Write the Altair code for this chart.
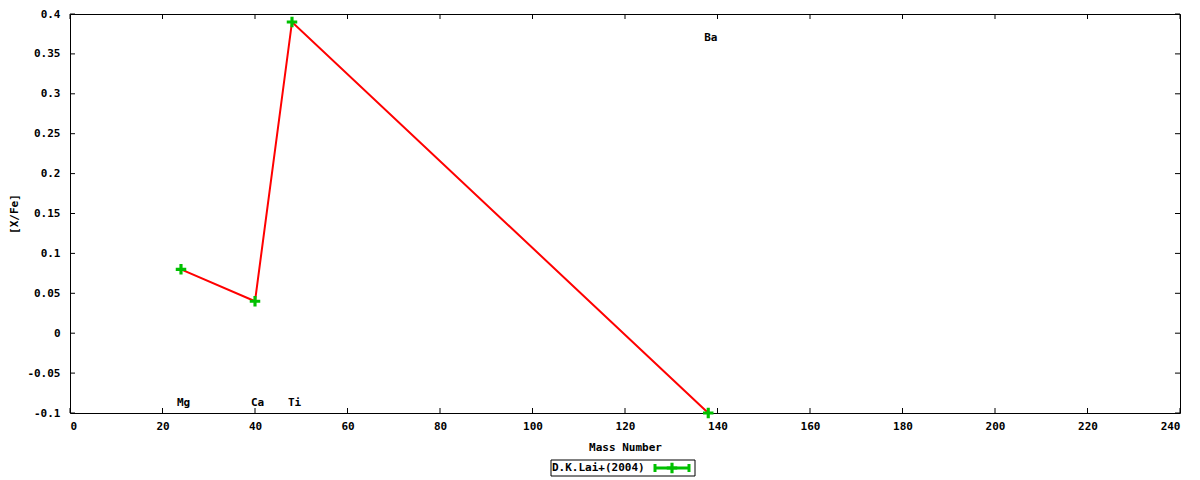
import altair as alt
import pandas as pd

# abundance ratios vs mass number
elements = ["Mg", "Ca", "Ti", "Ba"]
mass_number = [24, 40, 48, 138]
x_fe = [0.08, 0.04, 0.39, -0.10]
# where the element labels sit (data coords)
label_y = [-0.0875, -0.0875, -0.0875, 0.37]

x_ticks = [0, 20, 40, 60, 80, 100, 120, 140, 160, 180, 200, 220, 240]
y_ticks = [-0.1, -0.05, 0, 0.05, 0.1, 0.15, 0.2, 0.25, 0.3, 0.35, 0.4]
legend_label = "D.K.Lai+(2004)"

W, H = 1110, 399
TICK = 5
FONT = "DejaVu Sans Mono"
GREEN = "#00c000"
PLUS = "M-0.3,-1H0.3V-0.3H1V0.3H0.3V1H-0.3V0.3H-1V-0.3H-0.3Z"

df = pd.DataFrame({"element": elements, "mass": mass_number, "xfe": x_fe,
                   "label_y": label_y})

x_scale = alt.Scale(domain=[0, 240], nice=False, zero=False)
y_scale = alt.Scale(domain=[-0.1, 0.4], nice=False, zero=False)

# same axis objects in every layer so the merged axes keep these settings
x_axis = alt.Axis(
    title="Mass Number", values=x_ticks, ticks=False, domain=False, grid=False,
    labelPadding=7, titlePadding=10, labelOverlap=False)
y_axis = alt.Axis(
    title="[X/Fe]", values=y_ticks, ticks=False, domain=False, grid=False,
    labelPadding=10, titlePadding=7, labelOverlap=False,
    labelExpr="replace(format(datum.value, '~g'), '\u2212', '-')")


def X(field):
    return alt.X(field, scale=x_scale, axis=x_axis)


def Y(field):
    return alt.Y(field, scale=y_scale, axis=y_axis)


base = alt.Chart(df)
line = base.mark_line(color="#ff0000", strokeWidth=2).encode(
    x=X("mass:Q"), y=Y("xfe:Q"))
points = base.mark_point(shape=PLUS, size=110, filled=True, opacity=1,
                         color=GREEN).encode(x=X("mass:Q"), y=Y("xfe:Q"))
names = base.mark_text(font=FONT, fontWeight="bold", fontSize=11, dx=2.5,
                       align="center", baseline="middle", color="black").encode(
    x=X("mass:Q"), y=Y("label_y:Q"), text="element:N")

# inward tick marks on all four sides
xt = alt.Chart(pd.DataFrame({"t": x_ticks}))
yt = alt.Chart(pd.DataFrame({"t": y_ticks}))
tick_style = dict(color="black", strokeWidth=1)
x_bot = xt.mark_rule(**tick_style).encode(
    x=X("t:Q"), y=alt.value(H), y2=alt.value(H - TICK))
x_top = xt.mark_rule(**tick_style).encode(
    x=X("t:Q"), y=alt.value(0), y2=alt.value(TICK))
y_left = yt.mark_rule(**tick_style).encode(
    y=Y("t:Q"), x=alt.value(0), x2=alt.value(TICK))
y_right = yt.mark_rule(**tick_style).encode(
    y=Y("t:Q"), x=alt.value(W), x2=alt.value(W - TICK))

# hand-built legend under the x title
lg = alt.Chart(pd.DataFrame({"label": [legend_label]}))
lx0, lx1, ly0, ly1 = 481, 625, H + 47, H + 63
lmid = (ly0 + ly1) / 2
leg_box = lg.mark_rect(fill="white", stroke="black", strokeWidth=1).encode(
    x=alt.value(lx0), x2=alt.value(lx1), y=alt.value(ly0), y2=alt.value(ly1))
leg_text = lg.mark_text(font=FONT, fontWeight="bold", fontSize=11, align="left",
                        baseline="middle", color="black").encode(
    x=alt.value(lx0 + 1), y=alt.value(lmid), text="label:N")
leg_line = lg.mark_rule(color=GREEN, strokeWidth=3).encode(
    x=alt.value(584), x2=alt.value(620), y=alt.value(lmid))
leg_cap1 = lg.mark_rule(color=GREEN, strokeWidth=3).encode(
    x=alt.value(585), y=alt.value(lmid - 4), y2=alt.value(lmid + 4))
leg_cap2 = lg.mark_rule(color=GREEN, strokeWidth=3).encode(
    x=alt.value(619), y=alt.value(lmid - 4), y2=alt.value(lmid + 4))
leg_pt = lg.mark_point(shape=PLUS, size=110, filled=True, opacity=1,
                       color=GREEN).encode(x=alt.value(602), y=alt.value(lmid))

chart = alt.layer(
    line, points, names, x_bot, x_top, y_left, y_right,
    leg_box, leg_text, leg_line, leg_cap1, leg_cap2, leg_pt,
).properties(
    width=W, height=H,
    background="white",
    autosize=alt.AutoSizeParams(type="none"),
    padding={"left": 62, "top": 6, "right": 10, "bottom": 64},
).configure_view(
    stroke="black", strokeWidth=1, fill="white"
).configure_axis(
    labelFont=FONT, labelFontSize=11, labelFontWeight="bold", labelColor="black",
    titleFont=FONT, titleFontSize=11, titleFontWeight="bold", titleColor="black",
)

chart.save("out.html", embed_options={"renderer": "svg", "actions": False})
